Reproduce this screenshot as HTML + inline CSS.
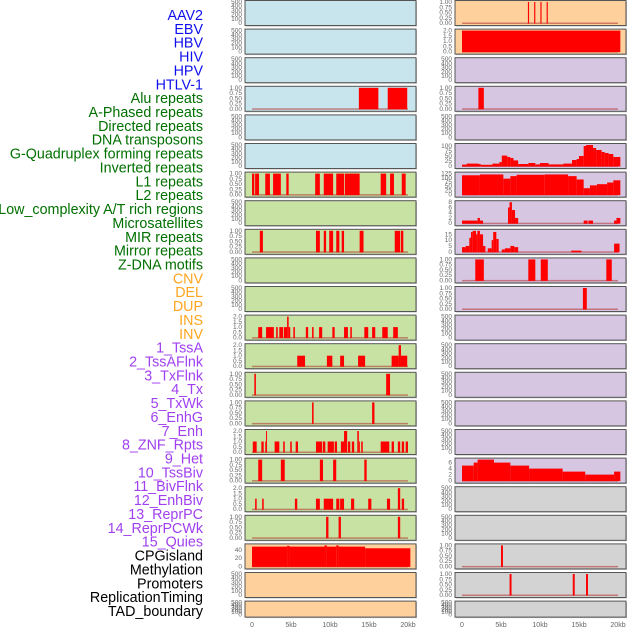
<!DOCTYPE html>
<html><head><meta charset="utf-8"><style>
html,body{margin:0;padding:0;background:#fff}
svg{display:block}
.lab{font-family:"Liberation Sans",sans-serif;font-size:14.3px}
.tk{font-family:"Liberation Sans",sans-serif;font-size:6.5px;fill:#666}
.xt{font-family:"Liberation Sans",sans-serif;font-size:7px;fill:#666}
</style></head><body>
<svg id="chart" width="630" height="630" viewBox="0 0 630 630" xmlns="http://www.w3.org/2000/svg">
<g id="labels"></g>
<g id="panels"></g>
<g id="xaxes"></g>
</svg>
<script>
const trackLabels = ["AAV2","EBV","HBV","HIV","HPV","HTLV-1","Alu repeats","A-Phased repeats","Directed repeats","DNA transposons","G-Quadruplex forming repeats","Inverted repeats","L1 repeats","L2 repeats","Low_complexity A/T rich regions","Microsatellites","MIR repeats","Mirror repeats","Z-DNA motifs","CNV","DEL","DUP","INS","INV","1_TssA","2_TssAFlnk","3_TxFlnk","4_Tx","5_TxWk","6_EnhG","7_Enh","8_ZNF_Rpts","9_Het","10_TssBiv","11_BivFlnk","12_EnhBiv","13_ReprPC","14_ReprPCWk","15_Quies","CPGisland","Methylation","Promoters","ReplicationTiming","TAD_boundary"];
const labelGroups = [6,13,5,15,5];
const groupColors = ["#1010ee","#007000","#ffa520","#a040f0","#000000"];
const xTickValues = [0,5,10,15,20];
const xTickLabels = ["0","5kb","10kb","15kb","20kb"];
const emptyTicks = [0,100,200,300,400,500];
const binTicks = [0,0.25,0.5,0.75,1];
const binTickLabels = ["0.00","0.25","0.50","0.75","1.00"];
const twoTicks = [0,0.5,1,1.5,2];
const twoTickLabels = ["0.0","0.5","1.0","1.5","2.0"];

const L_alu = [[13.7,16.2],[17.4,19.9]];
const L_l1 = [[0,0.3],[0.4,0.9],[1.7,2.3],[2.7,3.7],[4.4,4.7],[8.1,8.7],[9.2,10.4],[10.8,11.8],[11.9,13.8],[16.5,17.2],[17.7,18.2],[19.2,19.7]];
const L_mir = [[1.0,1.4],[8.2,8.7],[9.2,9.5],[9.9,10.4],[10.8,11.2],[11.5,11.8],[13.8,14.3],[18.3,19.0],[19.1,19.4]];
const L_row11 = [[0.8,1.3,1],[1.8,2.8,1],[3.1,3.3,1],[3.5,4.0,1],[4.1,4.5,1],[4.5,4.7,2],[4.7,4.9,1],[5.3,5.5,1],[6.9,7.2,1],[7.7,7.9,1],[8.6,9.0,1],[10.3,10.6,1],[11.8,12.3,1],[12.6,12.8,1],[14.4,14.9,1],[15.4,15.8,1],[16.7,17.4,1],[18.1,18.7,1]];
const L_row12 = [[5.8,6.8,1],[9.6,10.3,1],[11.3,11.8,1],[13.6,14.5,1],[17.9,18.8,1],[18.8,19.1,2],[19.1,19.9,1]];
const L_row13 = [[0.3,0.5],[17.2,17.7]];
const L_row14 = [[7.7,7.9],[15.4,15.7]];
const L_row15 = [[0.1,0.6,1],[1.2,1.5,1],[1.7,1.8,1],[1.8,1.9,2],[2.9,3.5,1],[4.0,4.2,1],[4.9,5.1,1],[5.6,5.9,1],[8.2,9.0,1],[9.1,9.4,1],[9.7,10.5,1],[10.6,10.9,1],[11.4,11.8,1],[11.8,12.2,2],[12.3,12.6,1],[12.8,13.1,1],[13.5,13.7,2],[13.7,13.8,1],[14.0,14.2,1],[16.5,17.6,1],[17.9,18.2,1],[18.7,19.0,1],[19.2,19.5,1],[19.7,20.0,1]];
const L_row16 = [[0.8,1.3],[3.7,4.2],[8.7,9.1],[10.4,10.8],[14.4,14.7]];
const L_row17 = [[0.4,0.6,1],[1.3,1.5,1],[5.5,5.8,1],[8.2,8.7,1],[9.2,10.4,1],[10.8,11.2,1],[11.3,11.8,1],[12.7,13.1,1],[14.9,15.3,1],[17.3,17.7,1],[18.7,19.0,2],[19.2,19.5,1]];
const L_row18 = [[9.5,9.8],[11.1,11.4],[18.7,19.0]];
const L_cpg = [[0,4.5,48],[4.5,4.8,50],[4.8,9.3,48],[9.3,9.6,51],[9.6,10.8,48],[10.8,11.1,51],[11.1,14.5,48],[14.5,20.3,44]];

const R_row0 = [[8.45,8.6],[9.25,9.4],[10.05,10.2],[10.85,11.0]];
const R_row1 = [[0,20.3,2]];
const R_row3 = [[2.1,2.8]];
const R_row5 = [[0,0.6,7],[0.6,2.1,12],[2.1,2.4,10],[2.4,3.9,6],[3.9,4.8,12],[4.8,5.1,20],[5.1,5.8,52],[5.8,6.2,45],[6.2,6.6,40],[6.6,7.2,28],[7.2,8.5,10],[8.5,9.4,15],[9.4,10.0,8],[10.0,11.1,15],[11.1,13.0,8],[13.0,14.1,12],[14.1,14.7,30],[14.7,15.0,35],[15.0,15.6,50],[15.6,15.9,100],[15.9,16.8,105],[16.8,17.2,90],[17.2,17.9,80],[17.9,18.3,70],[18.3,18.8,65],[18.8,19.4,60],[19.4,20.3,45]];
const R_row6 = [[0,2.3,115],[2.3,5.3,120],[5.3,6.2,95],[6.2,7.0,110],[7.0,10.6,118],[10.6,13.6,120],[13.6,14.7,110],[14.7,15.6,90],[15.6,16.4,38],[16.4,17.3,55],[17.3,18.6,62],[18.6,19.4,72],[19.4,20.3,85]];
const R_row7 = [[0,2.0,1],[2.0,2.3,2],[2.3,2.7,1],[5.9,6.1,6],[6.1,6.4,8],[6.4,6.8,5],[6.8,7.2,2],[15.6,16.1,1],[16.2,16.8,1],[19.5,19.8,1],[19.8,20.3,2]];
const R_row8 = [[0,0.47,4],[0.47,0.94,5],[0.94,1.15,12],[1.15,1.37,17],[1.37,1.8,18],[1.8,1.97,15],[1.97,2.3,18],[2.3,2.7,15],[2.7,3.0,5],[3.3,3.8,3],[3.8,4.0,10],[4.0,4.4,17],[4.4,4.7,11],[5.1,5.5,2],[5.5,6.2,3],[6.2,6.7,5],[6.7,7.2,4],[14.0,15.3,1],[19.5,20.2,7]];
const R_row9 = [[1.7,2.8],[8.5,9.4],[10.1,11.0],[18.5,19.2]];
const R_row10 = [[15.5,16.0]];
const R_row16 = [[0,1.5,5],[1.5,2.0,6],[2.0,4.1,7],[4.1,6.2,6],[6.2,8.6,5],[8.6,12.9,4],[12.9,15.8,3],[15.8,19.5,2],[19.5,20.3,3]];
const R_row19 = [[5.0,5.25]];
const R_row20 = [[6.1,6.35],[14.2,14.45],[15.9,16.15]];

const C = {blue:"#c8e4ec",green:"#c8e2a4",orange:"#fdd09c",purple:"#d6c6e2",gray:"#d3d3d3"};
function E(bg){return {bg:bg,kind:"empty"};}
function B(bg,d){return {bg:bg,kind:"bin",data:d};}
function V(bg,d,max,ticks,tl){return {bg:bg,kind:"val",data:d,max:max,ticks:ticks,tl:tl||ticks.map(String)};}

const leftPanels = [E(C.blue),E(C.blue),E(C.blue),B(C.blue,L_alu),E(C.blue),E(C.blue),
 B(C.green,L_l1),E(C.green),B(C.green,L_mir),E(C.green),E(C.green),
 V(C.green,L_row11,2,twoTicks,twoTickLabels),V(C.green,L_row12,2,twoTicks,twoTickLabels),
 B(C.green,L_row13),B(C.green,L_row14),V(C.green,L_row15,2,twoTicks,twoTickLabels),
 B(C.green,L_row16),V(C.green,L_row17,2,twoTicks,twoTickLabels),B(C.green,L_row18),
 V(C.orange,L_cpg,51,[0,20,40]),E(C.orange),E(C.orange)];
const rightPanels = [B(C.orange,R_row0),V(C.orange,R_row1,2,twoTicks,twoTickLabels),E(C.purple),B(C.purple,R_row3),E(C.purple),
 V(C.purple,R_row5,105,[0,25,50,75,100]),V(C.purple,R_row6,125,[0,25,50,75,100,125]),V(C.purple,R_row7,8,[0,2,4,6,8]),
 V(C.purple,R_row8,18,[0,5,10,15]),B(C.purple,R_row9),B(C.purple,R_row10),
 E(C.purple),E(C.purple),E(C.purple),E(C.purple),E(C.purple),
 V(C.purple,R_row16,7,[0,2,4,6]),E(C.gray),E(C.gray),B(C.gray,R_row19),B(C.gray,R_row20),E(C.gray)];

const NS="http://www.w3.org/2000/svg";
function mk(tag,attrs,parent){const e=document.createElementNS(NS,tag);for(const k in attrs)e.setAttribute(k,attrs[k]);parent.appendChild(e);return e;}

const lg=document.getElementById('labels');
let gi=0,gc=0;
trackLabels.forEach((t,i)=>{
  const el=mk('text',{x:203,y:15+i*13.86+5,'text-anchor':'end','class':'lab',fill:groupColors[gi]},lg);
  
  
  el.textContent=t;
  gc++; if(gc>=labelGroups[gi]){gi++;gc=0;}
});

const pg=document.getElementById('panels');
function rowTop(i){return 0.5+i*28.6;}
function rowH(i){return i===21?16:25;}
function drawCol(panels,px,x0,side){
  const pw=171, sc=7.8;
  const xs=kb=>x0+kb*sc;
  panels.forEach((p,i)=>{
    const top=rowTop(i),h=rowH(i);
    const g=mk('g',{},pg);
    
    
    mk('rect',{x:px+1,y:top+1,width:pw,height:h,fill:'#999',opacity:0.6},g);
    const bg=mk('rect',{x:px,y:top,width:pw,height:h,fill:p.bg,stroke:'#555','stroke-width':1},g);
    
    
    const y0=top+h-2.5, y1=top+1.5;
    let ticks,tl,max;
    if(p.kind==='empty'){ticks=emptyTicks;tl=emptyTicks.map(String);max=500;}
    else if(p.kind==='bin'){ticks=binTicks;tl=binTickLabels;max=1;}
    else {ticks=p.ticks;tl=p.tl;max=p.max;}
    const ys=v=>y0-(v/max)*(y0-y1);
    ticks.forEach((v,k)=>{
      const t=mk('text',{x:px-3,y:ys(v)+2,'text-anchor':'end','class':'tk'},g);
      
      
      t.textContent=tl[k];
    });
    if(p.kind==='empty')return;
    mk('rect',{x:xs(0),y:y0-0.5,width:xs(20)-xs(0),height:1.5,fill:'#b03030',opacity:0.55},g);
    p.data.forEach(d=>{
      const v=p.kind==='bin'?1:d[2];
      const xa=xs(d[0]),xb=Math.max(xs(d[1]),xa+1);
      const r=mk('rect',{x:xa,y:ys(v),width:xb-xa,height:y0-ys(v)+0.5,fill:'#ff0000'},g);
      
      
    });
  });
  const xg=document.getElementById('xaxes');
  xTickValues.forEach((v,k)=>{
    const t=mk('text',{x:xs(v),y:627,'text-anchor':'middle','class':'xt'},xg);
    
    
    t.textContent=xTickLabels[k];
  });
}
drawCol(leftPanels,245,252,'left');
drawCol(rightPanels,455,462,'right');
</script>
</body></html>
